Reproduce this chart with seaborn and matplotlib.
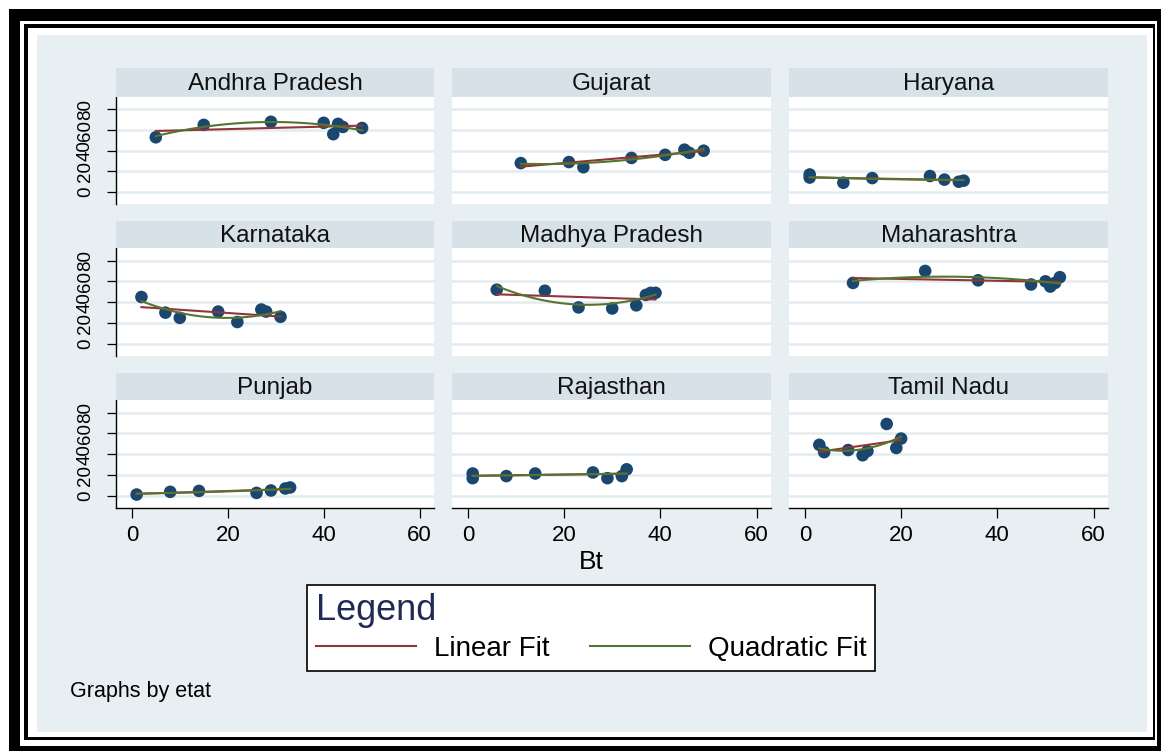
import numpy as np
import pandas as pd
import seaborn as sns
import matplotlib.pyplot as plt
from matplotlib.lines import Line2D
from matplotlib.patches import Rectangle

# Data (Bt share vs. value, one panel per state)
states = ['Andhra Pradesh', 'Gujarat', 'Haryana',
          'Karnataka', 'Madhya Pradesh', 'Maharashtra',
          'Punjab', 'Rajasthan', 'Tamil Nadu']

andhra_bt = [5, 15, 29, 40, 42, 43, 44, 48]
andhra_y = [53, 65, 68, 67, 56, 66, 63, 62]
gujarat_bt = [11, 21, 24, 34, 41, 45, 46, 49]
gujarat_y = [28, 29, 24, 33, 36, 41, 38, 40]
haryana_bt = [1, 1, 8, 14, 26, 29, 32, 33]
haryana_y = [17, 14, 9, 13.5, 15.5, 12, 10, 11]
karnataka_bt = [2, 7, 10, 18, 22, 27, 28, 31]
karnataka_y = [45, 30, 25, 31, 21, 33, 31, 26]
mp_bt = [6, 16, 23, 30, 35, 37, 38, 39]
mp_y = [52, 51, 35, 34, 37, 47, 49, 49]
maha_bt = [10, 25, 36, 47, 50, 51, 52, 53]
maha_y = [58.5, 70, 61, 57, 60, 55, 58.5, 64]
punjab_bt = [1, 8, 14, 26, 29, 32, 33]
punjab_y = [1.3, 3.9, 4.8, 2.9, 5.2, 7.1, 8.1]
raj_bt = [1, 1, 8, 14, 26, 29, 32, 33]
raj_y = [21.5, 17, 19, 21.5, 22.5, 17, 19, 25.5]
tamil_bt = [3, 4, 9, 12, 13, 17, 19, 20]
tamil_y = [49, 42, 44, 39, 43, 69, 46, 55]

xs = [andhra_bt, gujarat_bt, haryana_bt, karnataka_bt, mp_bt, maha_bt,
      punjab_bt, raj_bt, tamil_bt]
ys = [andhra_y, gujarat_y, haryana_y, karnataka_y, mp_y, maha_y,
      punjab_y, raj_y, tamil_y]

frames = []
for st, bx, by in zip(states, xs, ys):
    frames.append(pd.DataFrame({'etat': st, 'Bt': bx, 'value': by}))
df = pd.concat(frames, ignore_index=True)

y_ticks = [0, 20, 40, 60, 80]
x_ticks = [0, 20, 40, 60]

# Colours (Stata s2color-ish)
navy = '#1A476F'
maroon = '#90353B'
green = '#55752F'
bg = '#E8EFF2'
strip_col = '#D6E2E8'
grid_col = '#E4ECEF'

plt.rcParams['font.family'] = ['Liberation Sans', 'DejaVu Sans']

W, H = 1161, 751
fig = plt.figure(figsize=(W / 100, H / 100), dpi=100)
fig.patch.set_facecolor('white')


def frac(x0, y0, x1, y1):
    return [x0 / W, 1 - y1 / H, (x1 - x0) / W, (y1 - y0) / H]


# Frame: thick black, thin black, then graph region
for box, col in [((9, 9, 1161, 751), 'black'),
                 ((20, 21, 1156.7, 746), 'white'),
                 ((24, 24, 1155, 740), 'black'),
                 ((28, 27.5, 1152.7, 737.3), 'white'),
                 ((37, 35, 1146.7, 731.7), bg)]:
    l, b, w, h = frac(*box)
    fig.add_artist(Rectangle((l, b), w, h, transform=fig.transFigure,
                             facecolor=col, edgecolor='none', zorder=-10))

cols = [(116, 434), (452, 771), (789, 1108)]
plot_rows = [(97, 204), (248, 356), (400, 508)]
strip_rows = [(68, 97), (221, 248), (373, 400)]

for i, st in enumerate(states):
    r, c = divmod(i, 3)
    x0, x1 = cols[c]
    d = df[df['etat'] == st]

    ax = fig.add_axes(frac(x0, plot_rows[r][0], x1, plot_rows[r][1]))
    ax.set_facecolor('white')
    sns.scatterplot(data=d, x='Bt', y='value', ax=ax, color=navy, s=82,
                    edgecolor='none', zorder=3)
    sns.regplot(data=d, x='Bt', y='value', ax=ax, scatter=False, ci=None,
                order=1, color=maroon, line_kws={'lw': 1.5, 'zorder': 4})
    sns.regplot(data=d, x='Bt', y='value', ax=ax, scatter=False, ci=None,
                order=2, color=green, line_kws={'lw': 1.5, 'zorder': 5})

    ax.set_xlim(-3.3, 63.0)
    ax.set_ylim(-11.6, 92)
    ax.set_yticks(y_ticks)
    ax.set_xticks(x_ticks)
    ax.grid(axis='y', color=grid_col, lw=1.8)
    ax.grid(axis='x', visible=False)
    ax.set_axisbelow(True)
    ax.set_xlabel('')
    ax.set_ylabel('')
    for sp in ax.spines.values():
        sp.set_visible(False)

    if c == 0:
        ax.spines['left'].set_visible(True)
        ax.spines['left'].set_linewidth(1)
        ax.tick_params(axis='y', length=6.5, width=0.9, labelsize=13.5,
                       pad=9.5, labelrotation=90)
        for lab in ax.get_yticklabels():
            lab.set_va('center')
    else:
        ax.tick_params(axis='y', length=0, labelleft=False)

    if r == 2:
        ax.spines['bottom'].set_visible(True)
        ax.spines['bottom'].set_linewidth(1)
        ax.tick_params(axis='x', length=7, width=0.9, labelsize=16, pad=5)
    else:
        ax.tick_params(axis='x', length=0, labelbottom=False)

    sax = fig.add_axes(frac(x0, strip_rows[r][0], x1, strip_rows[r][1]))
    sax.set_facecolor(strip_col)
    sax.set_xticks([])
    sax.set_yticks([])
    for sp in sax.spines.values():
        sp.set_visible(False)
    sax.text(0.5, 0.45, st, ha='center', va='center', fontsize=17.5,
             color='#111111', transform=sax.transAxes)

fig.text(591 / W, 1 - 562 / H, 'Bt', ha='center', va='center', fontsize=19)
fig.text(70 / W, 1 - 692 / H, 'Graphs by etat', ha='left', va='center',
         fontsize=15.5)

handles = [Line2D([0], [0], color=maroon, lw=1.5),
           Line2D([0], [0], color=green, lw=1.5)]
leg = fig.legend(handles, ['Linear Fit', 'Quadratic Fit'], loc='center',
                 bbox_to_anchor=(591 / W, 1 - 627.5 / H), ncol=2,
                 title='Legend', fontsize=20, title_fontsize=26,
                 frameon=True, fancybox=False, edgecolor='black',
                 facecolor='white', framealpha=1, handlelength=3.6,
                 handletextpad=0.65, columnspacing=1.45, borderpad=0.3,
                 labelspacing=0.3, alignment='left')
leg.get_title().set_color('#1F2A55')
leg.get_frame().set_linewidth(1.2)

fig.savefig('out.png', dpi=100)
